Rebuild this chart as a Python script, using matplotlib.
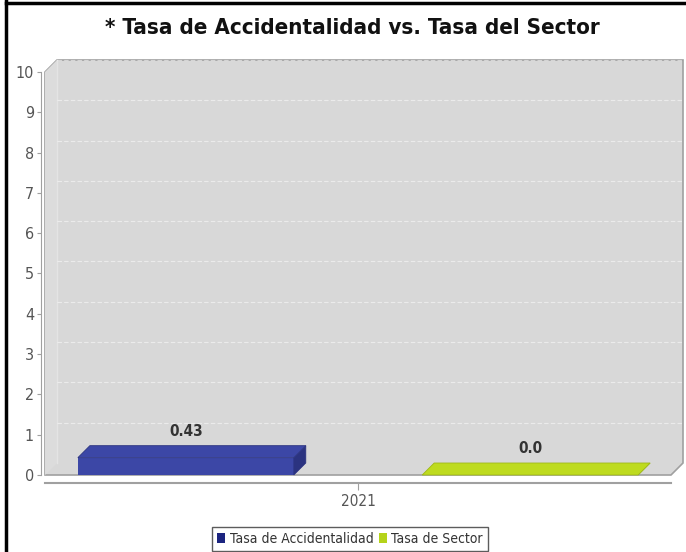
import numpy as np
import matplotlib.pyplot as plt
from matplotlib.patches import Polygon, Patch
from matplotlib.lines import Line2D
from matplotlib.transforms import ScaledTranslation, IdentityTransform

plt.rcParams['font.family'] = ['DejaVu Sans']
plt.rcParams['font.stretch'] = 'condensed'

# data
categories = ['2021']
series = ['Tasa de Accidentalidad', 'Tasa de Sector']
values = [0.43, 0.0]
colors = ['#3c47a6', '#bedb1f']
side_colors = ['#2b3380', '#9fb818']
legend_colors = ['#1c2580', '#b5d31a']

W, H = 686, 552
DX, DY = 12, 12  # 3d depth in pixels

fig = plt.figure(figsize=(W / 100, H / 100), dpi=100)
ax = fig.add_axes([45 / W, 77 / H, 626 / W, 403 / H])
ax.set_xlim(-1, 1)
ax.set_ylim(0, 10)
ax.patch.set_visible(False)

depth = ScaledTranslation(DX / 100, DY / 100, fig.dpi_scale_trans)

def disp(pts):
    return ax.transAxes.transform(pts)

# walls
f = disp([(0, 0), (0, 1), (1, 1), (1, 0)])
d = np.array([DX, DY])
outline = [f[0], f[1], f[1] + d, f[2] + d, f[3] + d, f[3]]
ax.add_patch(Polygon(outline, closed=True, transform=IdentityTransform(),
                     facecolor='#d8d8d8', edgecolor='#a0a0a0', lw=1.2, zorder=0, clip_on=False))
ax.add_patch(Polygon([f[0], f[1], f[1] + d, f[0] + d], closed=True, transform=IdentityTransform(),
                     facecolor='#dcdcdc', edgecolor='none', zorder=0.5, clip_on=False))
ax.plot([f[0][0] + DX, f[1][0] + DX], [f[0][1] + DY, f[1][1] + DY], color='#e4e4e4', lw=1,
        transform=IdentityTransform(), zorder=0.6, clip_on=False)

# gridlines on back wall
ticks = np.arange(0, 11)
for t in ticks[1:]:
    ax.plot([0, 1], [t, t], transform=ax.get_yaxis_transform() + depth,
            color='white', lw=0.8, ls=(0, (4, 2)), alpha=0.5, zorder=0.7, clip_on=False)

# bars
offsets = [-0.55, 0.55]
bars = ax.bar(offsets, values, width=0.69, color=colors, zorder=3, clip_on=False)
for b, c, sc in zip(bars, colors, side_colors):
    (x0, y0), (x1, y1) = ax.transData.transform([(b.get_x(), b.get_y()),
                                                  (b.get_x() + b.get_width(), b.get_y() + b.get_height())])
    top = [(x0, y1), (x1, y1), (x1 + DX, y1 + DY), (x0 + DX, y1 + DY)]
    side = [(x1, y0), (x1, y1), (x1 + DX, y1 + DY), (x1 + DX, y0 + DY)]
    ax.add_patch(Polygon(side, closed=True, transform=IdentityTransform(),
                         facecolor=sc, edgecolor=sc, lw=0.5, zorder=3, clip_on=False))
    ax.add_patch(Polygon(top, closed=True, transform=IdentityTransform(),
                         facecolor=c, edgecolor=sc, lw=0.6, zorder=3, clip_on=False))

for x, v in zip(offsets, values):
    ax.annotate(str(v), xy=(x, v), xytext=(0, 19), textcoords='offset points',
                ha='center', va='center', fontsize=11, fontweight='bold', color='#333333')

# axes
for s in ['top', 'right']:
    ax.spines[s].set_visible(False)
ax.spines['left'].set_position(('outward', 3))
ax.spines['bottom'].set_position(('outward', 6))
ax.spines['left'].set_color('#a0a0a0')
ax.spines['bottom'].set_color('#a0a0a0')
ax.spines['bottom'].set_linewidth(1.5)
ax.set_yticks(ticks)
ax.set_xticks([0])
ax.set_xticklabels(categories)
ax.tick_params(axis='y', colors='#a0a0a0', labelcolor='#555555', labelsize=11.5, length=3, pad=2)
ax.tick_params(axis='x', colors='#a0a0a0', labelcolor='#555555', labelsize=11, length=5, pad=3)

fig.text(352.5 / W, 1 - 28 / H, '* Tasa de Accidentalidad vs. Tasa del Sector',
         ha='center', va='center', fontsize=16, fontweight='bold', color='#111111')

handles = [Patch(facecolor=c, edgecolor='none') for c in legend_colors]
leg = fig.legend(handles, series, loc='upper center', bbox_to_anchor=(350 / W, 25 / H),
                 ncol=2, frameon=True, fancybox=False, fontsize=10, handlelength=0.6,
                 handleheight=0.8, handletextpad=0.3, columnspacing=0.4, borderpad=0.35,
                 borderaxespad=0)
leg.get_frame().set_edgecolor('#333333')
leg.get_frame().set_linewidth(1)
for t in leg.get_texts():
    t.set_color('#333333')

# outer frame
fig.add_artist(Line2D([6 / W, 6 / W], [0, 1], color='black', lw=2.5))
fig.add_artist(Line2D([6 / W, 1], [1 - 3 / H, 1 - 3 / H], color='black', lw=2.5))

fig.savefig('out.png', dpi=100)
